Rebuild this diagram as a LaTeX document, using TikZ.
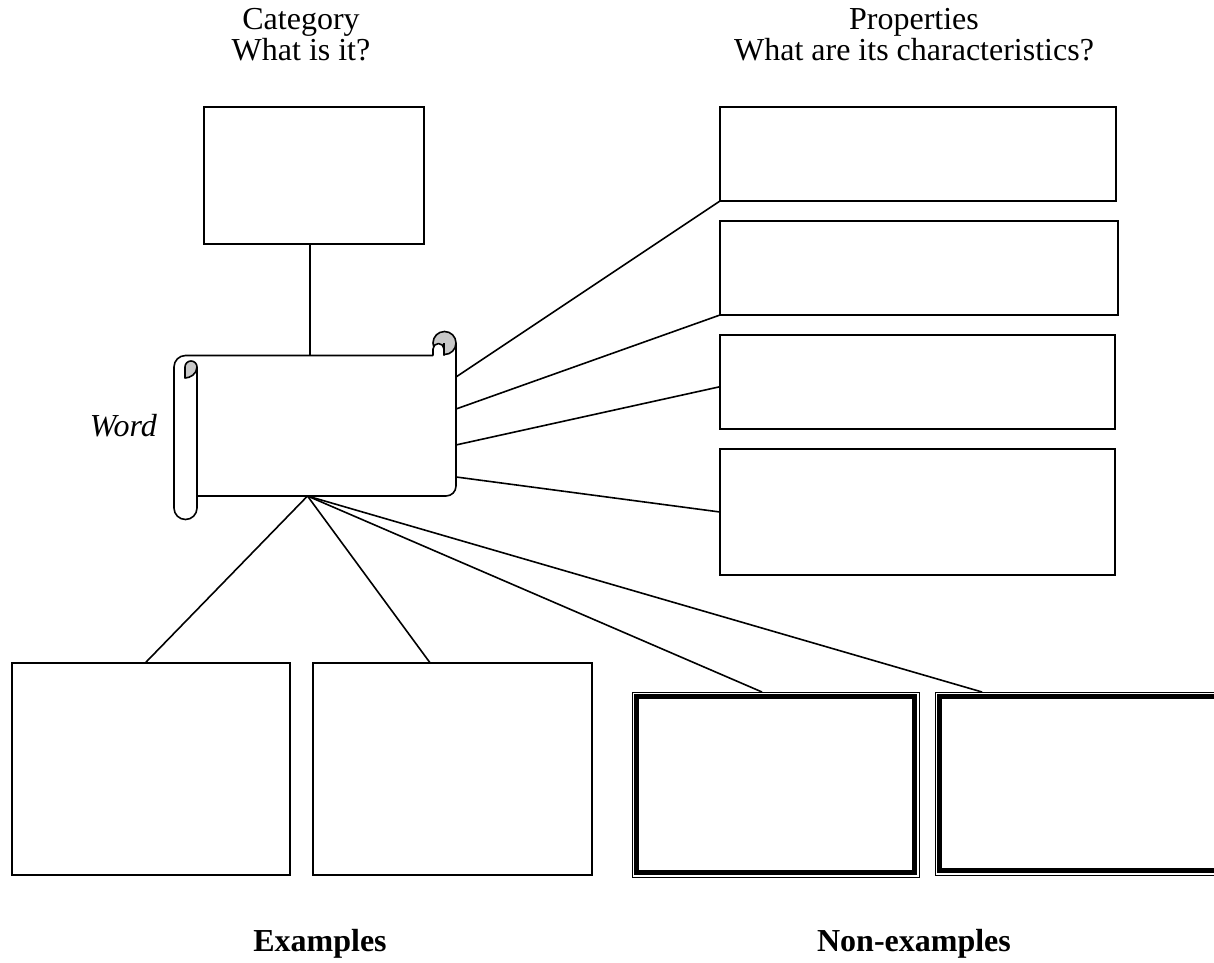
\documentclass[tikz,border=0pt]{standalone}
\usepackage{fontspec}
\setmainfont{Liberation Serif}
\usetikzlibrary{calc}
\definecolor{rollgray}{HTML}{C8C8C8}
\begin{document}
\begin{tikzpicture}[x=1pt,y=-1pt,
  box/.style={draw, line width=2pt, rectangle, inner sep=0pt, outer sep=0pt, anchor=north west},
  dblbox/.style={draw, line width=1pt, rectangle, inner sep=0pt, outer sep=0pt, anchor=north west},
  area/.style={rectangle, inner sep=0pt, outer sep=0pt, anchor=north west},
  conn/.style={line width=1.6pt},
  sc/.style={line width=1.6pt, line join=round},
  lbl/.style={font=\fontsize{32}{37}\selectfont, inner sep=0pt, anchor=base}]
\clip (0,0) rectangle (1214,962);
\fill[white] (0,0) rectangle (1214,962);

% titles
\node[lbl] (cat1) at (301,29) {Category};
\node[lbl] (cat2) at (301,60) {What is it?};
\node[lbl] (prop1) at (914,29) {Properties};
\node[lbl] (prop2) at (914,60) {What are its characteristics?};
\node[lbl] (exl) at (320,951) {\bfseries Examples};
\node[lbl] (nxl) at (914,951) {\bfseries Non-examples};
\node[lbl, anchor=base east] (word) at (157,436) {\itshape Word};

% boxes
\node[box, minimum width=220, minimum height=137] (cat) at (204,107) {};
\node[box, minimum width=396, minimum height=94] (p1) at (720,107) {};
\node[box, minimum width=398, minimum height=94] (p2) at (720,221) {};
\node[box, minimum width=395, minimum height=94] (p3) at (720,335) {};
\node[box, minimum width=395, minimum height=126] (p4) at (720,449) {};
\node[box, minimum width=278, minimum height=212] (ex1) at (12,663) {};
\node[box, minimum width=279, minimum height=212] (ex2) at (313,663) {};
\node[dblbox, minimum width=287, minimum height=185] (nx1) at (632,692) {};
\node[dblbox, minimum width=287, minimum height=183] (nx2) at (935,692) {};
\draw[line width=4.5pt] ($(nx1.north west)+(4.7,4.7)$) rectangle ($(nx1.south east)+(-4.7,-4.7)$);
\draw[line width=4.5pt] ($(nx2.north west)+(4.7,4.7)$) rectangle ($(nx2.south east)+(-4.7,-4.7)$);

% scroll (body area as a node)
\node[area, minimum width=270, minimum height=141] (scroll) at (186,355) {};

% left roll
\filldraw[sc, fill=white] (197,367) -- (197,508) arc[start angle=0,end angle=180,radius=11.5]
  -- (174,367) arc[start angle=180,end angle=270,radius=11.5] -- (433,355.5);
\filldraw[sc, fill=rollgray] (185,378) -- (185,367) arc[start angle=180,end angle=360,radius=6]
  .. controls (197,374) and (190,378) .. (185,378) -- cycle;
% right roll
\filldraw[sc, fill=rollgray] (444.5,343) circle[radius=11.5];
\filldraw[sc, fill=white] (433,355.5) -- (433,349) arc[start angle=180,end angle=360,radius=5.5] -- (444,355.5);
\draw[sc] (444,343) -- (444,349);
\draw[sc, rounded corners=10pt] (456,343) -- (456,496) -- (197,496);

% connectors
\coordinate (stop) at ($(scroll.north west)!0.459!(scroll.north east)$);
\coordinate (sbot) at ($(scroll.south west)!0.45!(scroll.south east)$);
\draw[conn] (cat.south west -| stop) -- (stop);
\draw[conn] ($(scroll.north east)!0.156!(scroll.south east)$) -- (p1.south west);
\draw[conn] ($(scroll.north east)!0.383!(scroll.south east)$) -- (p2.south west);
\draw[conn] ($(scroll.north east)!0.638!(scroll.south east)$) -- ($(p3.north west)!0.55!(p3.south west)$);
\draw[conn] ($(scroll.north east)!0.865!(scroll.south east)$) -- (p4.west);
\draw[conn] (sbot) -- ($(ex1.north west)!0.479!(ex1.north east)$);
\draw[conn] (sbot) -- ($(ex2.north west)!0.42!(ex2.north east)$);
\draw[conn] (sbot) -- ($(nx1.north west)!0.453!(nx1.north east)$);
\draw[conn] (sbot) -- ($(nx2.north west)!0.164!(nx2.north east)$);
\end{tikzpicture}
\end{document}
